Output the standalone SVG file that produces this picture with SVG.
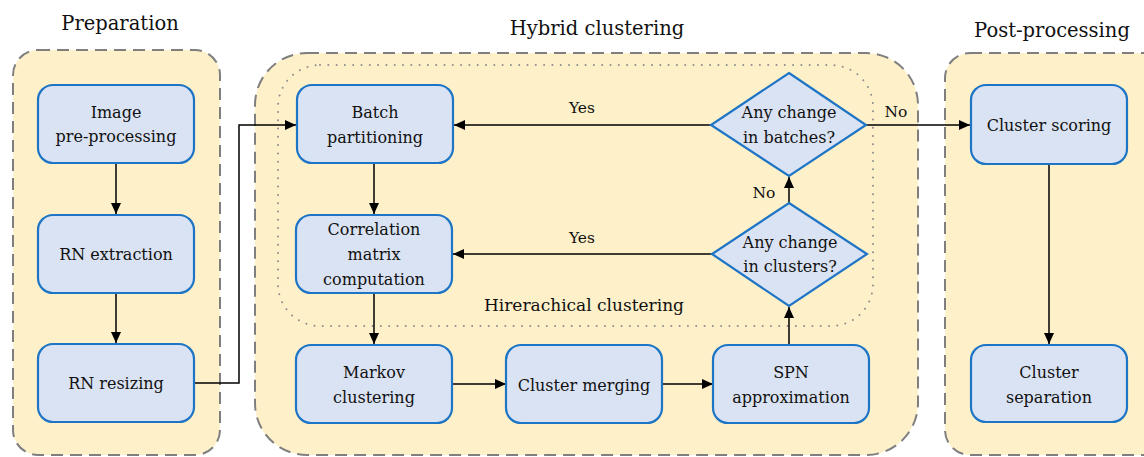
<svg xmlns="http://www.w3.org/2000/svg" width="1144" height="457" viewBox="0 0 1144 457">
<style>
.panel{fill:#FEF0C9;stroke:#7F7F7F;stroke-width:2;stroke-dasharray:12 7}
.dot{fill:none;stroke:#8C8C8C;stroke-width:2;stroke-dasharray:0 8.3;stroke-linecap:round}
.node{fill:#DAE3F3;stroke:#1E75C5;stroke-width:2.2}
text{font-family:'DejaVu Serif',serif;fill:#111;text-anchor:middle}
.t{font-size:16px}
.h{font-size:17px}
.title{font-size:19.5px}
.lbl{font-size:15.5px}
.c{fill:none;stroke:#000;stroke-width:1.5;marker-end:url(#ah)}
</style>
<defs>
<marker id="ah" markerUnits="userSpaceOnUse" markerWidth="12" markerHeight="10" refX="11" refY="5" orient="auto">
<path d="M0,0 L11,5 L0,10 Z" fill="#000"/>
</marker>
</defs>
<rect width="1144" height="457" fill="#fff"/>
<g id="panel-preparation">
<rect class="panel" x="13" y="50" width="207" height="405" rx="25"/>
<text class="title" x="120" y="30">Preparation</text>
</g>
<g id="panel-hybrid">
<rect class="panel" x="255" y="53" width="663" height="402" rx="52"/>
<text class="title" x="597" y="35">Hybrid clustering</text>
</g>
<g id="panel-post">
<rect class="panel" x="945" y="53" width="240" height="402" rx="25"/>
<text class="title" x="1052" y="37">Post-processing</text>
</g>
<g id="region-hierarchical">
<rect class="dot" x="278" y="65" width="595" height="261" rx="42"/>
<text class="h" x="584" y="311">Hirerachical clustering</text>
</g>
<g id="connectors">
<path class="c" d="M116,163 V214"/>
<path class="c" d="M116,293 V343"/>
<path class="c" d="M194,383 H239 V125 H296"/>
<path class="c" d="M374,163 V214"/>
<path class="c" d="M374,293 V344"/>
<path class="c" d="M452,384 H506"/>
<path class="c" d="M662,384 H713"/>
<path class="c" d="M789,345 V307"/>
<path class="c" d="M789,203 V177"/>
<path class="c" d="M711,125 H454"/>
<path class="c" d="M713,254 H453"/>
<path class="c" d="M866,125 H970"/>
<path class="c" d="M1049,164 V344"/>
<text class="lbl" x="582" y="113">Yes</text>
<text class="lbl" x="582" y="243">Yes</text>
<text class="lbl" x="764" y="198">No</text>
<text class="lbl" x="896" y="117">No</text>
</g>
<g id="node-image-preprocessing">
<rect class="node" x="38" y="85" width="156" height="78" rx="15"/>
<text class="t" x="116" y="118">Image</text>
<text class="t" x="116" y="142">pre-processing</text>
</g>
<g id="node-rn-extraction">
<rect class="node" x="38" y="215" width="156" height="78" rx="15"/>
<text class="t" x="116" y="260">RN extraction</text>
</g>
<g id="node-rn-resizing">
<rect class="node" x="38" y="344" width="156" height="78" rx="15"/>
<text class="t" x="116" y="389">RN resizing</text>
</g>
<g id="node-batch-partitioning">
<rect class="node" x="297" y="85" width="156" height="78" rx="15"/>
<text class="t" x="375" y="118">Batch</text>
<text class="t" x="375" y="143">partitioning</text>
</g>
<g id="node-correlation">
<rect class="node" x="296" y="215" width="156" height="78" rx="15"/>
<text class="t" x="374" y="235">Correlation</text>
<text class="t" x="374" y="260">matrix</text>
<text class="t" x="374" y="285">computation</text>
</g>
<g id="node-markov">
<rect class="node" x="296" y="345" width="156" height="78" rx="15"/>
<text class="t" x="374" y="378">Markov</text>
<text class="t" x="374" y="403">clustering</text>
</g>
<g id="node-cluster-merging">
<rect class="node" x="506" y="345" width="156" height="78" rx="15"/>
<text class="t" x="584" y="391">Cluster merging</text>
</g>
<g id="node-spn">
<rect class="node" x="713" y="345" width="156" height="78" rx="15"/>
<text class="t" x="791" y="378">SPN</text>
<text class="t" x="791" y="403">approximation</text>
</g>
<g id="node-change-batches">
<polygon class="node" points="789,73 866,125 789,176 711,125"/>
<text class="t" x="789" y="118">Any change</text>
<text class="t" x="789" y="143">in batches?</text>
</g>
<g id="node-change-clusters">
<polygon class="node" points="789,203 867,254 789,306 712,254"/>
<text class="t" x="790" y="248">Any change</text>
<text class="t" x="790" y="272">in clusters?</text>
</g>
<g id="node-cluster-scoring">
<rect class="node" x="971" y="85" width="156" height="79" rx="15"/>
<text class="t" x="1049" y="131">Cluster scoring</text>
</g>
<g id="node-cluster-separation">
<rect class="node" x="971" y="345" width="156" height="77" rx="15"/>
<text class="t" x="1049" y="378">Cluster</text>
<text class="t" x="1049" y="403">separation</text>
</g>
</svg>
